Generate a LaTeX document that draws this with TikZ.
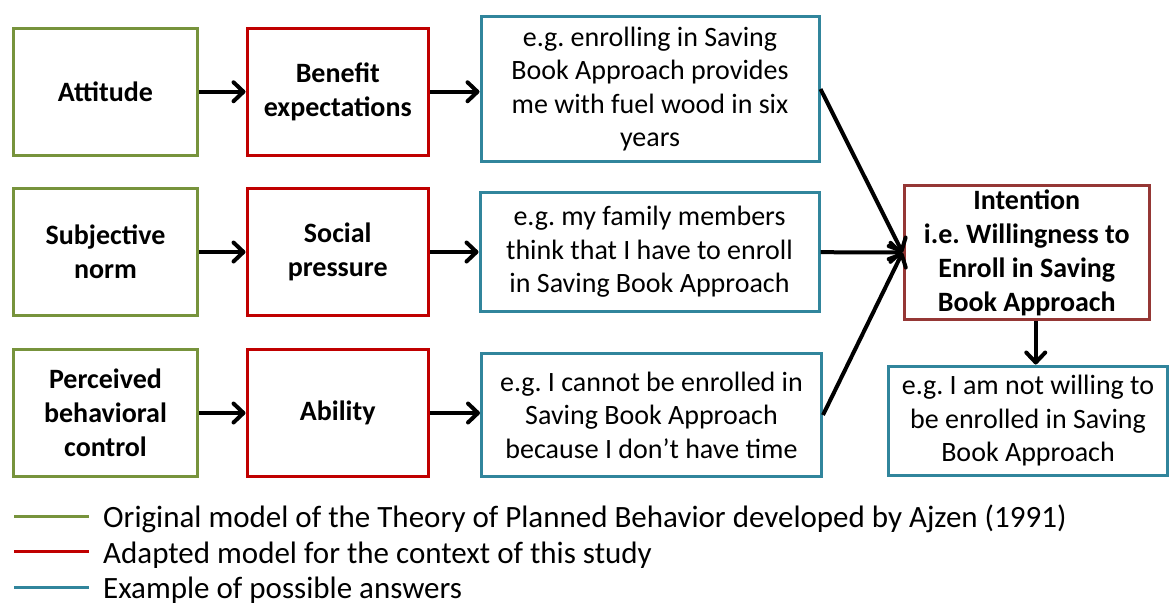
\documentclass[tikz,border=0pt]{standalone}
\usepackage{fontspec}
\setmainfont{Carlito}
\usetikzlibrary{arrows.meta}
\definecolor{cgreen}{HTML}{77933C}
\definecolor{cred}{HTML}{C00000}
\definecolor{cblue}{HTML}{31859C}
\definecolor{cdred}{HTML}{953735}
\frenchspacing
\begin{document}
\begin{tikzpicture}[x=1pt,y=-1pt,
  box/.style={draw, line width=3pt, align=center, inner sep=0pt, text=black,
    font=\frenchspacing\fontsize{28}{33.5}\selectfont},
  bbox/.style={box, font=\frenchspacing\fontsize{28}{34}\selectfont\bfseries},
  gbox/.style={bbox, draw=cgreen, minimum width=184pt, minimum height=127pt},
  rbox/.style={bbox, draw=cred, minimum width=181.5pt, minimum height=127pt},
  ebox/.style={box, draw=cblue},
  ibox/.style={bbox, draw=cdred},
  arr/.style={line width=4pt, -{Straight Barb[length=10pt,width=19pt,round]}},
  legline/.style={line width=3pt},
  legtext/.style={anchor=base west, inner sep=0pt, font=\frenchspacing\fontsize{31}{36}\selectfont},
]
\useasboundingbox (0,0) rectangle (1171,603);

% first column
\node[gbox] (att) at (105.5,91.75) {Attitude};
\node[gbox] (sub) at (105.5,252) {Subjective\\norm};
\node[gbox] (pbc) at (105.5,413) {Perceived\\behavioral\\control};

% second column
\node[rbox] (ben) at (337.75,91.75) {Benefit\\expectations};
\node[rbox] (soc) at (337.75,252) {Social\\pressure};
\node[rbox] (abi) at (337.75,413) {Ability};

% examples
\node[ebox, minimum width=338pt, minimum height=144.5pt] (ex1) at (650,89)
  {e.g. enrolling in Saving\\Book Approach provides\\me with fuel wood in six\\years};
\node[ebox, minimum width=339pt, minimum height=118.5pt] (ex2) at (649.5,252)
  {e.g. my family members\\think that I have to enroll\\in Saving Book Approach};
\node[ebox, minimum width=340pt, minimum height=123pt] (ex3) at (651.5,415)
  {e.g. I cannot be enrolled in\\Saving Book Approach\\because I don’t have time};

% intention
\node[ibox, minimum width=245.5pt, minimum height=134pt] (int) at (1026.75,252.5)
  {Intention\\i.e. Willingness to\\Enroll in Saving\\Book Approach};
\node[ebox, minimum width=279.5pt, minimum height=109.5pt] (ex4) at (1028,420.75)
  {e.g. I am not willing to\\be enrolled in Saving\\Book Approach};

% arrows
\draw[arr] (att) -- (ben);
\draw[arr] (sub) -- (soc);
\draw[arr] (pbc) -- (abi);
\draw[arr] (ben) -- (ex1.west |- ben);
\draw[arr] (soc) -- (ex2);
\draw[arr] (abi) -- (ex3.west |- abi);
\draw[arr] (ex1.east) -- (int.west);
\draw[arr] (ex2) -- (int);
\draw[arr] (ex3.east) -- (int.west);
\draw[arr] ([xshift=9pt]int.south) -- ([xshift=9pt]int.south |- ex4.north);

% legend
\draw[legline, cgreen] (14,516) -- (89,516);
\draw[legline, cred] (14,551) -- (89,551);
\draw[legline, cblue] (14,587) -- (89,587);
\node[legtext] (lg1) at (103,527) {Original model of the Theory of Planned Behavior developed by Ajzen (1991)};
\node[legtext] (lg2) at (103,563) {Adapted model for the context of this study};
\node[legtext] (lg3) at (103,598) {Example of possible answers};
\end{tikzpicture}
\end{document}
